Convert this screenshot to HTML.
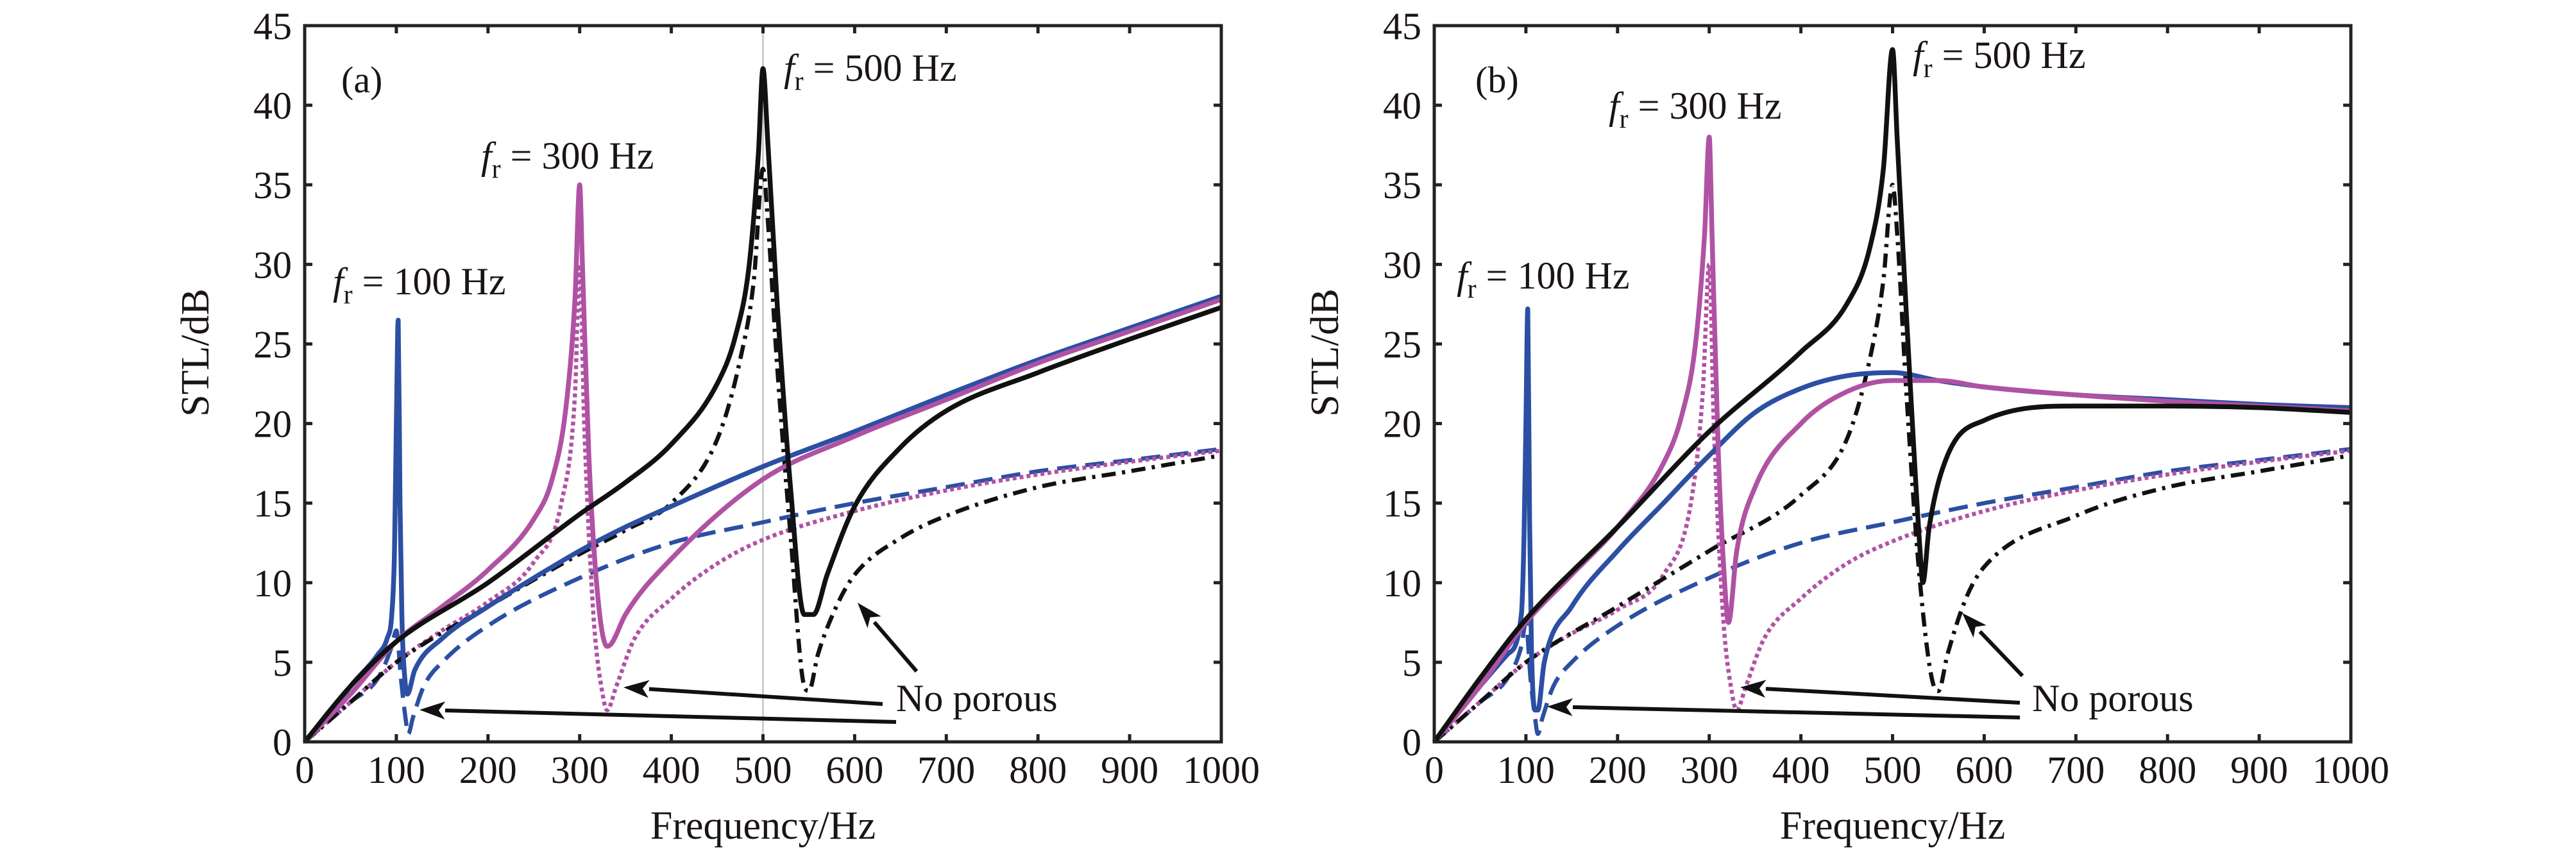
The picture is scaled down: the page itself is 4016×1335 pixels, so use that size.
<!DOCTYPE html>
<html><head><meta charset="utf-8"><style>
html,body{margin:0;padding:0;background:#fff;}
svg{display:block;}
text{font-family:"Liberation Serif",serif;fill:#1a1414;}
</style></head><body>
<svg id="chart" width="4016" height="1335" viewBox="0 0 4016 1335" xmlns="http://www.w3.org/2000/svg"></svg>
<script>
const xTicks=[0,100,200,300,400,500,600,700,800,900,1000];
const yTicks=[0,5,10,15,20,25,30,35,40,45];
// panel (a)
const aBlueSolid=[[0,0],[20,1.2],[50,3.5],[80,5.5],[90,6.5],[95,8],[98,12],[100,20],[102,26.5],[104,15],[106,8],[110,3.5],[112,3],[120,4.5],[150,6.5],[200,8.5],[250,10.3],[300,12],[350,13.5],[400,14.8],[500,17.3],[600,19.5],[700,21.8],[800,24],[900,26],[1000,28]];
const aBlueDash=[[0,0],[50,2.5],[80,4],[95,6],[100,7],[105,4],[110,1.5],[113,0.5],[118,1.5],[130,3.5],[150,5],[200,7.3],[300,10.3],[400,12.5],[500,13.8],[600,15],[700,16],[800,17],[900,17.7],[1000,18.4]];
const aMagSolid=[[0,0],[50,3],[100,6.3],[150,8.5],[200,10.8],[250,14],[270,16.5],[285,21],[295,28],[300,35],[303,30],[310,18],[320,9],[330,6],[335,6.2],[350,8],[400,11.5],[500,16.5],[600,19.2],[700,21.5],[800,23.8],[900,25.8],[1000,27.8]];
const aMagDot=[[0,0],[50,2.5],[100,5],[150,7],[200,8.8],[250,11.3],[280,15],[295,22],[300,30],[305,20],[315,8],[325,3],[330,2],[340,3.5],[360,6.5],[400,9],[450,11.2],[500,12.7],[600,14.5],[700,15.8],[800,16.8],[900,17.6],[1000,18.3]];
const aBlackSolid=[[0,0],[50,3.5],[100,6.3],[200,10],[300,14.3],[350,16.3],[400,18.7],[450,22.5],[470,25.5],[485,30],[495,37],[500,42.3],[505,38],[515,28],[530,16],[545,8],[555,8],[570,10.5],[600,14.8],[650,18.5],[700,20.8],[800,23.2],[900,25.3],[1000,27.3]];
const aBlackDashDot=[[0,0],[50,2.5],[100,5],[200,8.5],[300,11.8],[350,13.3],[400,15],[450,19],[475,24],[490,29],[500,36],[505,33],[515,24],[530,13],[545,3.5],[550,3.2],[560,5.5],[580,8.5],[600,10.5],[650,12.8],[700,14.2],[800,16],[900,17],[1000,18]];
// panel (b)
const bBlueSolid=[[0,0],[50,3.5],[80,5.5],[95,8],[98,13],[100,20],[102,27.2],[104,14],[106,6],[110,2],[113,2],[120,5],[150,8.5],[200,12],[250,15],[300,18],[350,20.7],[400,22.2],[450,23],[500,23.2],[550,22.7],[600,22.3],[700,21.8],[800,21.5],[900,21.2],[1000,21]];
const bBlueDash=[[0,0],[50,2.5],[80,4],[95,6],[100,7.5],[105,4],[110,1.5],[113,0.5],[118,1.5],[130,3.5],[150,5],[200,7.3],[300,10.3],[400,12.5],[500,13.8],[600,15],[700,16],[800,17],[900,17.7],[1000,18.4]];
const bMagSolid=[[0,0],[50,3.5],[100,7.5],[150,10.5],[200,13.5],[250,17.5],[270,20.5],[285,25],[295,32],[300,38],[303,32],[310,18],[318,9],[321,7.5],[330,12],[350,16],[400,20],[450,22],[500,22.7],[550,22.7],[600,22.3],[700,21.8],[800,21.4],[900,21.1],[1000,20.8]];
const bMagDot=[[0,0],[50,2.5],[100,5],[150,6.8],[200,8.3],[250,10.5],[280,15],[293,22],[300,30],[305,20],[315,8],[325,3],[330,2],[340,3.5],[360,6.5],[400,9],[450,11.2],[500,12.6],[600,14.5],[700,15.8],[800,16.8],[900,17.6],[1000,18.3]];
const bBlackSolid=[[0,0],[50,4],[100,7.7],[200,13.5],[300,19.5],[400,24.5],[450,27.5],[475,31],[490,36],[500,43.5],[505,38],[515,27],[530,12],[533,10],[540,13.5],[560,18],[600,20.2],[700,21.1],[800,21.1],[900,21],[1000,20.7]];
const bBlackDashDot=[[0,0],[50,2.5],[100,5],[200,8.5],[300,12],[400,15.5],[450,19],[475,24],[490,29],[500,35],[505,32],[515,22],[530,10],[545,3.5],[550,3.2],[560,5.5],[580,9],[600,11],[700,14.2],[800,16],[900,17],[1000,18]];

const NS='http://www.w3.org/2000/svg';
const svg=document.getElementById('chart');
function mk(tag,attrs,parent){const e=document.createElementNS(NS,tag);for(const k in attrs)e.setAttribute(k,attrs[k]);(parent||svg).appendChild(e);return e;}
// monotone cubic (Fritsch-Carlson) path through pixel points
function monoPath(P){
 const n=P.length;if(n<2)return '';
 const dx=[],m=[],t=new Array(n);
 for(let i=0;i<n-1;i++){dx[i]=P[i+1][0]-P[i][0];m[i]=(P[i+1][1]-P[i][1])/dx[i];}
 t[0]=m[0];t[n-1]=m[n-2];
 for(let i=1;i<n-1;i++){t[i]=(m[i-1]*m[i]<=0)?0:(m[i-1]+m[i])/2;}
 for(let i=0;i<n-1;i++){
  if(m[i]===0){t[i]=0;t[i+1]=0;continue;}
  const a=t[i]/m[i],b=t[i+1]/m[i],s=a*a+b*b;
  if(s>9){const k=3/Math.sqrt(s);t[i]=k*a*m[i];t[i+1]=k*b*m[i];}
 }
 let d='M'+P[0][0].toFixed(1)+','+P[0][1].toFixed(1);
 for(let i=0;i<n-1;i++){
  const h=dx[i]/3;
  d+='C'+(P[i][0]+h).toFixed(1)+','+(P[i][1]+t[i]*h).toFixed(1)+' '+(P[i+1][0]-h).toFixed(1)+','+(P[i+1][1]-t[i+1]*h).toFixed(1)+' '+P[i+1][0].toFixed(1)+','+P[i+1][1].toFixed(1);
 }
 return d;
}
const BLUE='#2b4fa3',MAG='#b052a3',BLK='#111';
const panels=[
 {id:'a',left:475,label:'(a)',series:[[aBlueDash,BLUE,'30 14'],[aMagDot,MAG,'6 5'],[aBlackDashDot,BLK,'22 10 5 10'],[aBlueSolid,BLUE,''],[aMagSolid,MAG,''],[aBlackSolid,BLK,'']],
  ann:[[519,459,'100'],[750,263,'300'],[1222,126,'500']],lab:[532,144],np:[1397,1109],
  arrows:[[1397,1126,654,1107],[1376,1098,972,1072],[1429,1047,1337,940]],vline:true},
 {id:'b',left:2236,label:'(b)',series:[[bBlueDash,BLUE,'30 14'],[bMagDot,MAG,'6 5'],[bBlackDashDot,BLK,'22 10 5 10'],[bBlueSolid,BLUE,''],[bMagSolid,MAG,''],[bBlackSolid,BLK,'']],
  ann:[[2271,450,'100'],[2508,185,'300'],[2982,106,'500']],lab:[2300,144],np:[3168,1109],
  arrows:[[3149,1119,2412,1102],[3149,1096,2713,1072],[3153,1054,3059,956]],vline:false}
];
const TOP=40,BOT=1157,W=1429;
const names=['blue-dashed','magenta-dotted','black-dashdot','blue-solid','magenta-solid','black-solid'];
panels.forEach(p=>{
 const g=mk('g',{});
 
 
 const xs=v=>p.left+v/1000*W, ys=v=>BOT-v/45*(BOT-TOP);
 if(p.vline){const vl=mk('line',{x1:xs(500),x2:xs(500),y1:TOP,y2:BOT,stroke:'#ccc','stroke-width':3},g);
  }
 p.series.forEach((s,i)=>{
  const d=monoPath(s[0].map(pt=>[xs(pt[0]),ys(pt[1])]));
  const a={d:d,fill:'none',stroke:s[1],'stroke-width':s[2]?6.5:7.5,'stroke-linejoin':'round'};
  if(s[2])a['stroke-dasharray']=s[2];
  const e=mk('path',a,g);
  
  
 });
 const fr=mk('rect',{x:p.left,y:TOP,width:W,height:BOT-TOP,fill:'none',stroke:'#222','stroke-width':5},g);
 
 xTicks.forEach(t=>{
  const x=xs(t);
  mk('line',{x1:x,x2:x,y1:BOT,y2:BOT-12,stroke:'#222','stroke-width':5},g);
  mk('line',{x1:x,x2:x,y1:TOP,y2:TOP+12,stroke:'#222','stroke-width':5},g);
  const tx=mk('text',{x:x,y:1221,'font-size':60,'text-anchor':'middle'},g);tx.textContent=t;
  
 });
 yTicks.forEach(t=>{
  const y=ys(t);
  mk('line',{x1:p.left,x2:p.left+12,y1:y,y2:y,stroke:'#222','stroke-width':5},g);
  mk('line',{x1:p.left+W,x2:p.left+W-12,y1:y,y2:y,stroke:'#222','stroke-width':5},g);
  const ty=mk('text',{x:p.left-20,y:y+21,'font-size':60,'text-anchor':'end'},g);ty.textContent=t;
  
 });
 const xl=mk('text',{x:p.left+W/2,y:1308,'font-size':62,'text-anchor':'middle'},g);xl.textContent='Frequency/Hz';
 
 const yl=mk('text',{x:0,y:0,'font-size':62,'text-anchor':'middle',transform:`translate(${p.left-150},550) rotate(-90)`},g);yl.textContent='STL/dB';
 
 const pl=mk('text',{x:p.lab[0],y:p.lab[1],'font-size':58},g);pl.textContent=p.label;
 
 p.ann.forEach(a=>{
  const t=mk('text',{x:a[0],y:a[1],'font-size':60},g);
  t.innerHTML='<tspan font-style="italic">f</tspan><tspan font-size="42" dy="14">r</tspan><tspan dy="-14"> = '+a[2]+' Hz</tspan>';
  
 });
 const np=mk('text',{x:p.np[0],y:p.np[1],'font-size':60},g);np.textContent='No porous';
 
 p.arrows.forEach(a=>{
  const ar=mk('g',{},g);
  
  const dx=a[2]-a[0],dy=a[3]-a[1],L=Math.hypot(dx,dy),ux=dx/L,uy=dy/L,h=40,w=14;
  const bx=a[2]-ux*h,by=a[3]-uy*h;
  mk('line',{x1:a[0],y1:a[1],x2:bx,y2:by,stroke:'#111','stroke-width':6},ar);
  mk('polygon',{points:`${a[2]},${a[3]} ${bx-uy*w},${by+ux*w} ${bx+ux*10},${by+uy*10} ${bx+uy*w},${by-ux*w}`,fill:'#111'},ar);
 });
});
</script>
</body></html>
